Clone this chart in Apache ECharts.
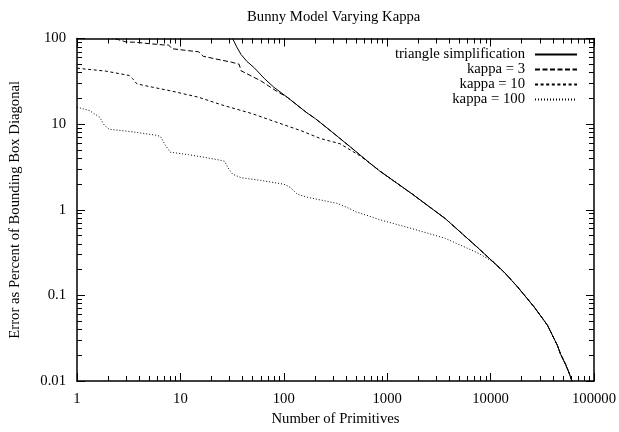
<!DOCTYPE html>
<html>
<head>
<meta charset="utf-8">
<script src="https://cdn.jsdelivr.net/npm/echarts@6/dist/echarts.min.js"></script>
<style>html,body{margin:0;padding:0;background:#fff;}#c{width:619px;height:432px;}</style>
</head>
<body>
<div id="c"></div>
<script>
const chartTitle = 'Bunny Model Varying Kappa';
const xName = 'Number of Primitives';
const yName = 'Error as Percent of Bounding Box Diagonal';
const seriesNames = ['triangle simplification', 'kappa = 3', 'kappa = 10', 'kappa = 100'];
const xTickLabels = ['1', '10', '100', '1000', '10000', '100000'];
const yTickLabels = ['0.01', '0.1', '1', '10', '100'];

const triangle = [[32,100],[35,80],[38.6,65],[44,54],[51.8,45.5],[65,34],[80,27],[108,20.6],[168,13.5],[202,11.6],[291,8.15],[450,5.3],[676,3.52],[842,2.85],[1754,1.52],[3656,0.786],[7610,0.356],[13700,0.184],[18400,0.124],[26500,0.0727],[35500,0.0448],[44300,0.026],[47600,0.0205],[53200,0.0156],[57500,0.0124],[61600,0.0098],[62500,0.009]];
const kappa3Head = [[2,105],[3,91],[3.7,90.4],[5,87],[7,84],[7.7,84],[8.3,76],[12,72],[15,70],[16.6,62],[21.5,58],[31,53],[37,50],[38.6,42],[40,40],[60,32],[84,24.5],[108,20.6]];
const kappa10Head = [[1,45],[1.9,41.6],[3.2,37],[3.45,34],[3.8,29.5],[5,27.5],[8,24.5],[15,20.6],[25,16.8],[50,13.2],[75,11.1],[150,8.3],[225,6.8],[350,5.9],[540,4.3],[676,3.52]];
const kappa100Head = [[1,15.8],[1.32,14.4],[1.65,12.1],[1.84,9.7],[2.05,8.7],[3.4,8.15],[5.7,7.45],[6.4,7.2],[7.14,5.7],[8,4.7],[12,4.4],[17,4.1],[24,3.8],[26.8,3.68],[28.8,3.1],[32,2.6],[38.6,2.37],[60,2.2],[100,1.99],[116,1.82],[135,1.52],[168,1.40],[325,1.19],[405,1.07],[504,0.94],[676,0.84],[842,0.766],[1754,0.60],[3656,0.463],[7610,0.311],[11000,0.239],[13700,0.182]];

function withTail(head) {
  const lastX = head[head.length - 1][0];
  return head.concat(triangle.filter(p => p[0] > lastX));
}
const kappa3 = withTail(kappa3Head);
const kappa10 = withTail(kappa10Head);
const kappa100 = withTail(kappa100Head);

const xMin = Number(xTickLabels[0]), xMax = Number(xTickLabels[xTickLabels.length - 1]);
const yMin = Number(yTickLabels[0]), yMax = Number(yTickLabels[yTickLabels.length - 1]);

const FONT = 'Liberation Serif';
const FS = 14.7;
const chart = echarts.init(document.getElementById('c'), null, {renderer: 'canvas'});

function logAxis(pos, min, max, labels, extra) {
  return Object.assign({
    type: 'log', logBase: 10, position: pos, min: min, max: max,
    axisLine: {show: true, onZero: false, lineStyle: {color: '#000', width: 1.5}},
    axisTick: {show: true, inside: true, length: 8, lineStyle: {color: '#000', width: 1}},
    minorTick: {show: true, splitNumber: 9, length: 5, lineStyle: {color: '#000', width: 1}},
    splitLine: {show: false},
    minorSplitLine: {show: false},
    axisLabel: labels ? {
      show: true, color: '#000', fontFamily: FONT, fontSize: FS, margin: 11,
      formatter: v => labels[Math.round(Math.log10(v)) - Math.round(Math.log10(min))]
    } : {show: false}
  }, extra || {});
}

const lineSeries = (name, data, type) => ({
  name: name, type: 'line', data: data, symbol: 'none', showSymbol: false,
  xAxisIndex: 0, yAxisIndex: 0, clip: true, animation: false, z: 3,
  lineStyle: {color: '#000', width: 1, type: type},
  itemStyle: {color: '#000'}
});

chart.setOption({
  animation: false,
  backgroundColor: '#fff',
  title: {
    text: chartTitle, left: 247, top: 10, padding: 0,
    textStyle: {fontFamily: FONT, fontSize: FS, fontWeight: 'normal', color: '#000'}
  },
  legend: {
    orient: 'vertical', right: 41, top: 47, align: 'right', padding: 0,
    itemGap: 0, itemWidth: 42, itemHeight: 14.8,
    data: seriesNames,
    itemStyle: {opacity: 0},
    textStyle: {fontFamily: FONT, fontSize: FS, color: '#000', padding: [0, 5, 0, 0]}
  },
  tooltip: {show: false},
  grid: {left: 74, right: 22, top: 38.5, bottom: 45.5, containLabel: false},
  xAxis: [
    logAxis('bottom', xMin, xMax, xTickLabels, {
      name: xName, nameLocation: 'middle', nameGap: 31,
      nameTextStyle: {fontFamily: FONT, fontSize: FS, color: '#000'}
    }),
    logAxis('top', xMin, xMax, null)
  ],
  yAxis: [
    logAxis('left', yMin, yMax, yTickLabels, {
      name: yName, nameLocation: 'middle', nameGap: 54,
      nameTextStyle: {fontFamily: FONT, fontSize: FS, color: '#000'}
    }),
    logAxis('right', yMin, yMax, null)
  ],
  series: [
    lineSeries(seriesNames[0], triangle, 'solid'),
    lineSeries(seriesNames[1], kappa3, [5, 2.5]),
    lineSeries(seriesNames[2], kappa10, [3, 2.6]),
    lineSeries(seriesNames[3], kappa100, [1, 2])
  ]
});
</script>
</body>
</html>
